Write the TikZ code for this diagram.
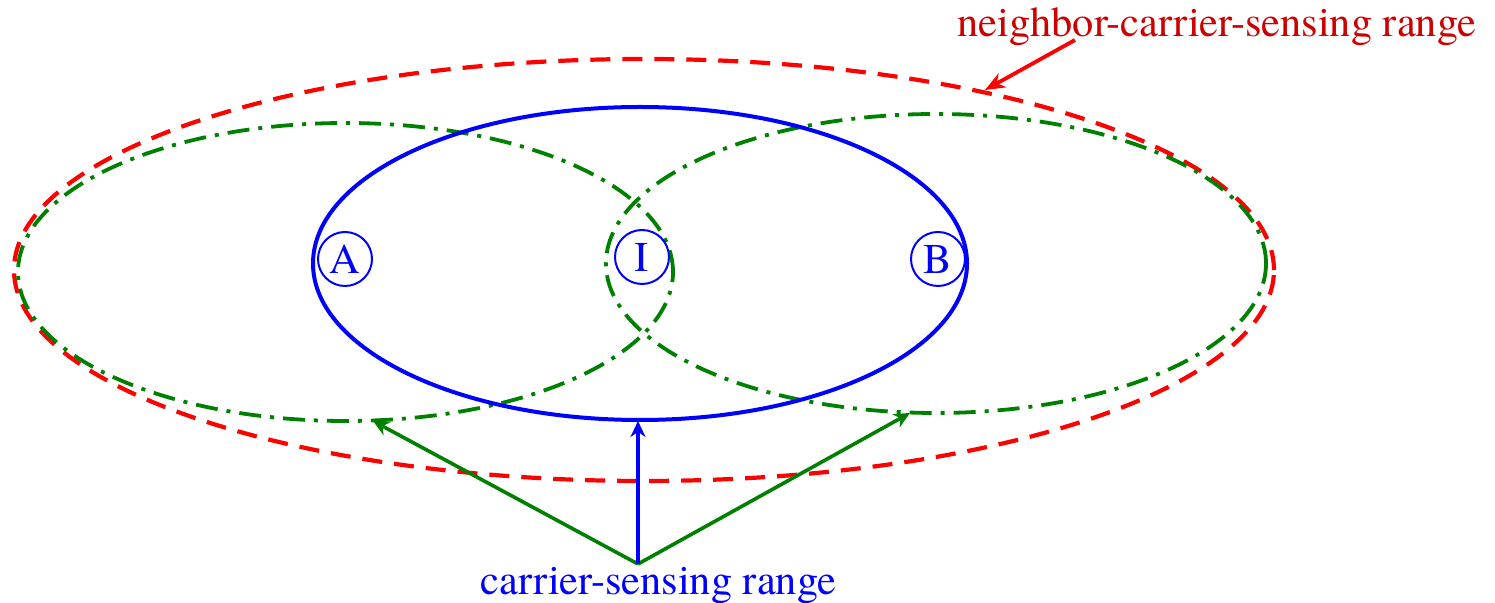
\documentclass[tikz,border=0pt]{standalone}
\usepackage{fontspec}
\setmainfont{TeX Gyre Termes}
\usetikzlibrary{arrows.meta}
\definecolor{dred}{rgb}{0.8,0,0}
\definecolor{dgreen}{rgb}{0,0.5,0}
\begin{document}
\begin{tikzpicture}[x=0.5pt,y=-0.5pt,
  lbl/.style={font=\rmfamily\fontsize{21.2}{24}\selectfont, inner sep=0},
  station/.style={circle, draw=blue, line width=1pt, text=blue, minimum size=27pt, inner sep=0pt, font=\rmfamily\fontsize{21.2}{24}\selectfont},
  nrange/.style={draw=red, line width=2.1pt, dash pattern=on 10pt off 6pt},
  crange/.style={draw=blue, line width=2pt},
  grange/.style={draw=dgreen, line width=1.9pt, dash pattern=on 11pt off 4.5pt on 2pt off 4.5pt},
  garrow/.style={draw=dgreen, line width=1.8pt, -{Stealth[length=8pt,width=7.5pt]}},
  barrow/.style={draw=blue, line width=1.8pt, -{Stealth[length=8pt,width=7.5pt]}},
  rarrow/.style={draw=red, line width=1.9pt, -{Stealth[length=10pt,width=8pt]}}
]
\useasboundingbox (0,0) rectangle (1495,603);
% ranges
\draw[nrange] (644,270) ellipse [x radius=315pt, y radius=105.5pt];
\draw[grange] (345.5,272) ellipse [x radius=163.75pt, y radius=74.5pt];
\draw[grange] (936,263.5) ellipse [x radius=165pt, y radius=74.75pt];
\draw[crange] (640,263.5) ellipse [x radius=163.5pt, y radius=78.25pt];
% stations
\node[station] (A) at (345,259) {A};
\node[station] (I) at (642,257) {I};
\node[station] (B) at (938,259) {B};
% labels
\node[lbl, text=dred, anchor=base west] (ncs) at (957,37) {neighbor-carrier-sensing range};
\node[lbl, text=blue, anchor=base west] (cs) at (480,595) {carrier-sensing range};
% arrow ends
\coordinate (tail) at (638,564);
\coordinate (nt) at (1075,40);
\coordinate (nh) at (985,90);
\coordinate (gl) at (373,421);
\coordinate (gr) at (910,413);
\coordinate (bt) at (638,421);
\draw[rarrow] (nt) -- (nh);
\draw[garrow] (tail) -- (gl);
\draw[garrow] (tail) -- (gr);
\draw[barrow] (tail) -- (bt);
\end{tikzpicture}
\end{document}
